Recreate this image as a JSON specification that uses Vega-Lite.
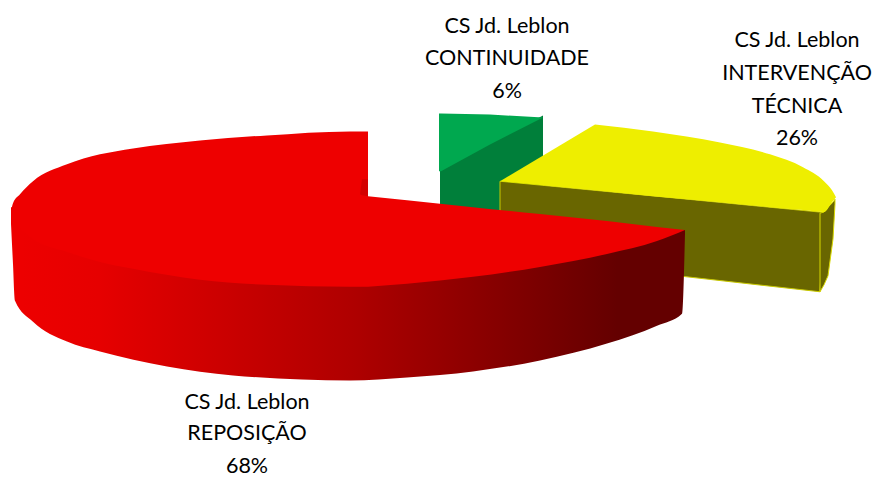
{
"$schema":"https://vega.github.io/schema/vega-lite/v6.json",
"autosize":{"type":"fit","contains":"padding"},
"width":875,"height":478,"padding":0,
"background":"white",
"view":{"stroke":null},
"datasets":{
"shapes":[
{"part":"greenDark","x":440,"y":170,"y2":206},{"part":"greenDark","x":543,"y":116,"y2":220},
{"part":"greenLight","x":439,"y":114,"y2":172},{"part":"greenLight","x":441,"y":114,"y2":172},{"part":"greenLight","x":490,"y":115,"y2":145},{"part":"greenLight","x":543,"y":118,"y2":118},
{"part":"rim","x":820,"y":214,"y2":293},{"part":"rim","x":824,"y":213,"y2":286},{"part":"rim","x":828,"y":208,"y2":277},{"part":"rim","x":833,"y":203,"y2":240},{"part":"rim","x":835,"y":200,"y2":205},
{"part":"olive","x":500,"y":182,"y2":257},{"part":"olive","x":687,"y":200,"y2":278},{"part":"olive","x":820,"y":213,"y2":293},{"part":"olive","x":824,"y":213,"y2":213},
{"part":"yellowLeft","x":500,"y":182,"y2":182},{"part":"yellowLeft","x":595,"y":125,"y2":191},
{"part":"yellowRight","x":595,"y":125,"y2":191},{"part":"yellowRight","x":653,"y":132,"y2":197},{"part":"yellowRight","x":720,"y":143,"y2":203},{"part":"yellowRight","x":770,"y":155,"y2":208},{"part":"yellowRight","x":803,"y":168,"y2":211},{"part":"yellowRight","x":824,"y":182,"y2":213},{"part":"yellowRight","x":832,"y":191,"y2":203},{"part":"yellowRight","x":836,"y":198,"y2":198},
{"part":"redSide","x":11,"y":208,"y2":225},{"part":"redSide","x":13,"y":208,"y2":265},{"part":"redSide","x":15,"y":215,"y2":302},{"part":"redSide","x":33,"y":235,"y2":323},{"part":"redSide","x":67,"y":248,"y2":343},{"part":"redSide","x":100,"y":258,"y2":353},{"part":"redSide","x":167,"y":270,"y2":368},{"part":"redSide","x":233,"y":278,"y2":377},{"part":"redSide","x":350,"y":283,"y2":382},{"part":"redSide","x":407,"y":280,"y2":379},{"part":"redSide","x":473,"y":273,"y2":373},{"part":"redSide","x":540,"y":263,"y2":362},{"part":"redSide","x":607,"y":250,"y2":345},{"part":"redSide","x":657,"y":237,"y2":327},{"part":"redSide","x":682,"y":231,"y2":315},{"part":"redSide","x":685,"y":231,"y2":235},
{"part":"redFaceLeft","x":11,"y":212,"y2":215},{"part":"redFaceLeft","x":13,"y":204,"y2":221},{"part":"redFaceLeft","x":20,"y":195,"y2":229},{"part":"redFaceLeft","x":33,"y":182,"y2":240},{"part":"redFaceLeft","x":67,"y":165,"y2":253},{"part":"redFaceLeft","x":100,"y":155,"y2":263},{"part":"redFaceLeft","x":133,"y":149,"y2":270},{"part":"redFaceLeft","x":200,"y":141,"y2":281},{"part":"redFaceLeft","x":267,"y":136,"y2":286},{"part":"redFaceLeft","x":350,"y":132,"y2":288},{"part":"redFaceLeft","x":368,"y":132,"y2":288},
{"part":"redFaceRight","x":368,"y":197,"y2":288},{"part":"redFaceRight","x":407,"y":201,"y2":285},{"part":"redFaceRight","x":473,"y":208,"y2":278},{"part":"redFaceRight","x":540,"y":215,"y2":268},{"part":"redFaceRight","x":607,"y":222,"y2":255},{"part":"redFaceRight","x":657,"y":228,"y2":242},{"part":"redFaceRight","x":685,"y":231,"y2":231},
{"part":"sliver","x":360,"y":195,"y2":195},{"part":"sliver","x":362,"y":180,"y2":196},{"part":"sliver","x":368,"y":180,"y2":197}
],
"labels":[
{"x":507,"y":27,"line":"CS Jd. Leblon"},{"x":507,"y":59,"line":"CONTINUIDADE"},{"x":507,"y":92,"line":"6%"},
{"x":797,"y":41,"line":"CS Jd. Leblon"},{"x":797,"y":74,"line":"INTERVENÇÃO"},{"x":797,"y":107,"line":"TÉCNICA"},{"x":797,"y":140,"line":"26%"},
{"x":247,"y":405,"line":"CS Jd. Leblon"},{"x":247,"y":436,"line":"REPOSIÇÃO"},{"x":247,"y":469,"line":"68%"}
]
},
"encoding":{
"x":{"field":"x","type":"quantitative","scale":{"domain":[0,875],"nice":false,"zero":false},"axis":null},
"y":{"field":"y","type":"quantitative","scale":{"domain":[478,0],"nice":false,"zero":false},"axis":null},
"y2":{"field":"y2"}
},
"layer":[
{"data":{"name":"shapes"},"transform":[{"filter":"datum.part==='greenDark'"}],"mark":{"type":"area","orient":"vertical","color":"#007f3a"}},
{"data":{"name":"shapes"},"transform":[{"filter":"datum.part==='greenLight'"}],"mark":{"type":"area","orient":"vertical","color":"#00a84f"}},
{"data":{"name":"shapes"},"transform":[{"filter":"datum.part==='olive'"}],"mark":{"type":"area","orient":"vertical","color":"#696600","stroke":"#c8c800","strokeWidth":1}},
{"data":{"name":"shapes"},"transform":[{"filter":"datum.part==='rim'"}],"mark":{"type":"area","orient":"vertical","color":"#696600","stroke":"#d8d800","strokeWidth":1}},
{"data":{"name":"shapes"},"transform":[{"filter":"datum.part==='yellowLeft'"}],"mark":{"type":"area","orient":"vertical","color":"#eeee00"}},
{"data":{"name":"shapes"},"transform":[{"filter":"datum.part==='yellowRight'"}],"mark":{"type":"area","orient":"vertical","color":"#eeee00","interpolate":"monotone"}},
{"data":{"name":"shapes"},"transform":[{"filter":"datum.part==='redSide'"}],"mark":{"type":"area","orient":"vertical","interpolate":"monotone","color":{"gradient":"linear","x1":0,"y1":0,"x2":1,"y2":0,"stops":[{"offset":0,"color":"#ee0000"},{"offset":0.13,"color":"#e60000"},{"offset":0.5,"color":"#b00000"},{"offset":0.9,"color":"#640000"},{"offset":1,"color":"#640000"}]}}},
{"data":{"name":"shapes"},"transform":[{"filter":"datum.part==='redFaceLeft'"}],"mark":{"type":"area","orient":"vertical","color":"#ee0000","interpolate":"monotone"}},
{"data":{"name":"shapes"},"transform":[{"filter":"datum.part==='redFaceRight'"}],"mark":{"type":"area","orient":"vertical","color":"#ee0000","interpolate":"monotone"}},
{"data":{"name":"shapes"},"transform":[{"filter":"datum.part==='sliver'"}],"mark":{"type":"area","orient":"vertical","color":"#d40000"}},
{"data":{"name":"labels"},"mark":{"type":"text","font":"Lato","fontSize":21.5,"color":"#000000","align":"center","baseline":"middle"},"encoding":{"y2":{"value":null},"text":{"field":"line","type":"nominal"}}}
]
}
